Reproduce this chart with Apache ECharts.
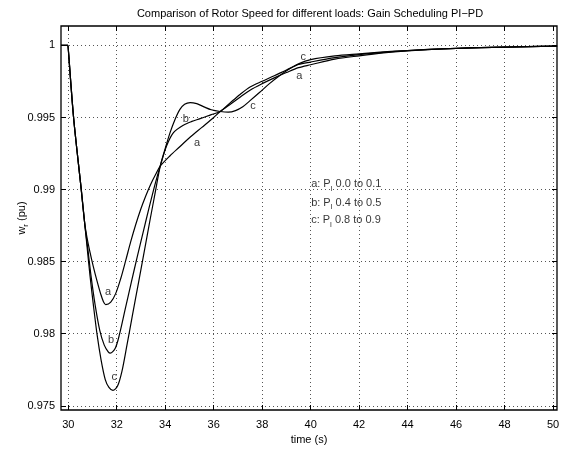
<!DOCTYPE html>
<html><head><meta charset="utf-8">
<script src="https://cdn.jsdelivr.net/npm/echarts@6/dist/echarts.min.js"></script>
<style>html,body{margin:0;padding:0;background:#fff}#c{width:570px;height:450px}</style>
</head><body><div id="c"></div>
<script>
// ---- data ----
const titleText = 'Comparison of Rotor Speed for different loads: Gain Scheduling PI\u2212PD';
const xTicks = [30, 32, 34, 36, 38, 40, 42, 44, 46, 48, 50];
const yTicks = [0.975, 0.98, 0.985, 0.99, 0.995, 1];
const yTickLabels = ['0.975', '0.98', '0.985', '0.99', '0.995', '1'];

// curve a: P_l 0.0 to 0.1
const timeA = [29.7, 29.99, 30, 30.219, 30.536, 30.672, 30.767, 30.891, 31.031, 31.188, 31.336, 31.452, 31.546, 31.753, 31.959, 32.165, 32.371, 32.577, 32.784, 32.99, 33.196, 33.402, 33.608, 33.794, 34.2, 34.6, 35.0, 35.5, 36.0, 36.27, 36.7, 37.1, 37.5, 38.0, 38.5, 39.0, 39.5, 40, 41, 42, 43, 44, 45, 46, 47, 48, 49, 50.17];
const speedA = [1, 1, 1, 0.995, 0.99, 0.98775, 0.98673, 0.9857, 0.98468, 0.98365, 0.98277, 0.98222, 0.98202, 0.98219, 0.9828, 0.98383, 0.98509, 0.98639, 0.98758, 0.98864, 0.98956, 0.99038, 0.99107, 0.99163, 0.99235, 0.99297, 0.9936, 0.9943, 0.995, 0.99542, 0.99594, 0.99642, 0.9969, 0.99735, 0.99775, 0.99812, 0.99846, 0.99866, 0.99905, 0.99928, 0.99948, 0.99962, 0.99972, 0.99979, 0.99985, 0.99989, 0.99992, 0.99995];
// curve b: P_l 0.4 to 0.5
const timeB = [29.7, 29.99, 30, 30.219, 30.536, 30.693, 30.796, 30.94, 31.113, 31.299, 31.485, 31.649, 31.732, 31.938, 32.115, 32.351, 32.598, 32.845, 33.093, 33.34, 33.588, 33.794, 34.05, 34.34, 34.75, 35.1, 35.44, 35.9, 36.27, 36.7, 37.1, 37.5, 38.0, 38.5, 39.0, 39.5, 40, 41, 42, 43, 44, 45, 46, 47, 48, 49, 50.17];
const speedB = [1, 1, 1, 0.995, 0.99, 0.98741, 0.98604, 0.984, 0.98195, 0.98024, 0.97921, 0.97874, 0.97865, 0.97899, 0.97997, 0.98172, 0.98355, 0.98533, 0.98707, 0.98878, 0.99042, 0.99163, 0.993, 0.99395, 0.99447, 0.99473, 0.99492, 0.9952, 0.99542, 0.99605, 0.99662, 0.99712, 0.99752, 0.9979, 0.9983, 0.99868, 0.99885, 0.99915, 0.99937, 0.99952, 0.99964, 0.99973, 0.9998, 0.99985, 0.99989, 0.99992, 0.99995];
// curve c: P_l 0.8 to 0.9
const timeC = [29.7, 29.99, 30, 30.219, 30.536, 30.693, 30.775, 30.899, 31.039, 31.192, 31.353, 31.526, 31.678, 31.843, 32.033, 32.214, 32.421, 32.639, 32.887, 33.134, 33.381, 33.588, 33.794, 34.0, 34.2, 34.4, 34.6, 34.8, 35.03, 35.3, 35.6, 35.9, 36.27, 36.6, 36.9, 37.2, 37.5, 37.9, 38.3, 38.7, 39.1, 39.5, 40, 41, 42, 43, 44, 45, 46, 47, 48, 49, 50.17];
const speedC = [1, 1, 1, 0.995, 0.99, 0.98741, 0.98604, 0.984, 0.98195, 0.9799, 0.97819, 0.97682, 0.97628, 0.97607, 0.97637, 0.97739, 0.97921, 0.9812, 0.98345, 0.9857, 0.98796, 0.9898, 0.99163, 0.99285, 0.99395, 0.99485, 0.99555, 0.99592, 0.99604, 0.99596, 0.99574, 0.99554, 0.99542, 0.99537, 0.99548, 0.99575, 0.99617, 0.99675, 0.99735, 0.99788, 0.99835, 0.99872, 0.99902, 0.99928, 0.99942, 0.99955, 0.99965, 0.99974, 0.9998, 0.99985, 0.99989, 0.99992, 0.99995];

// curve labels placed on the plot
const curveLabelText = ['a', 'b', 'c', 'b', 'a', 'c', 'c', 'a'];
const curveLabelTime = [31.64, 31.77, 31.90, 34.85, 35.31, 37.62, 39.70, 39.53];
const curveLabelSpeed = [0.98292, 0.9796, 0.97698, 0.99493, 0.99322, 0.99583, 0.99918, 0.99788];

// annotation block
const noteKey = ['a', 'b', 'c'];
const noteRange = ['0.0 to 0.1', '0.4 to 0.5', '0.8 to 0.9'];
const noteTime = [40, 40, 40];
const noteSpeed = [0.99026, 0.98900, 0.98780];

// ---- chart ----
const FONT = 'Liberation Sans, Arial, Helvetica, sans-serif';
const pairs = (t, v) => t.map((x, i) => [x, v[i]]);
const chart = echarts.init(document.getElementById('c'), null, {renderer: 'canvas'});
const lineStyle = {color: '#000', width: 1.2};
const curve = (name, t, v) => ({
  type: 'line', name, data: pairs(t, v), showSymbol: false, symbol: 'none',
  smooth: 0.3, lineStyle, z: 3, animation: false, silent: true
});
const gridLine = {show: true, lineStyle: {color: '#555', width: 1, type: [1, 3]}};
const yLabelFmt = v => { const i = yTicks.findIndex(y => Math.abs(y - v) < 1e-9); return i >= 0 ? yTickLabels[i] : ''; };
const richSub = {
  n: {fontFamily: FONT, fontSize: 11, color: '#000', lineHeight: 14, verticalAlign: 'top'},
  s: {fontFamily: FONT, fontSize: 8, color: '#000', lineHeight: 8, padding: [6, 0, 0, 0], verticalAlign: 'top'}
};

chart.setOption({
  animation: false,
  backgroundColor: '#fff',
  title: {
    text: titleText, left: 310, top: 8, textAlign: 'center', padding: 0,
    textStyle: {fontFamily: FONT, fontSize: 11, fontWeight: 'normal', color: '#000'}
  },
  grid: {left: 61, top: 26, width: 496, height: 390, show: true, borderColor: '#000', borderWidth: 1.3, backgroundColor: 'transparent'},
  xAxis: [{
    type: 'value', min: 29.7, max: 50.165,
    name: 'time (s)', nameLocation: 'middle', nameGap: 24, nameMoveOverlap: false,
    nameTextStyle: {fontFamily: FONT, fontSize: 11, color: '#000'},
    axisLine: {show: false},
    axisTick: {show: true, inside: true, length: 5, customValues: xTicks, lineStyle: {color: '#000'}},
    axisLabel: {show: true, customValues: xTicks, margin: 9, fontFamily: FONT, fontSize: 11, color: '#000'},
    splitLine: gridLine
  }, {
    type: 'value', min: 29.7, max: 50.165, position: 'top',
    axisLine: {show: false},
    axisTick: {show: true, inside: true, length: 5, customValues: xTicks, lineStyle: {color: '#000'}},
    axisLabel: {show: false}, splitLine: {show: false}
  }],
  yAxis: [{
    type: 'value', min: 0.97471, max: 1.00135,
    name: '{n|w}{s|r}{n| (pu)}', nameLocation: 'middle', nameRotate: 90, nameGap: 31, nameMoveOverlap: false,
    nameTextStyle: {fontFamily: FONT, fontSize: 11, color: '#000', rich: richSub},
    axisLine: {show: false},
    axisTick: {show: true, inside: true, length: 5, customValues: yTicks, lineStyle: {color: '#000'}},
    axisLabel: {show: true, customValues: yTicks, formatter: yLabelFmt, margin: 6, fontFamily: FONT, fontSize: 11, color: '#000'},
    splitLine: gridLine
  }, {
    type: 'value', min: 0.97471, max: 1.00135, position: 'right',
    axisLine: {show: false},
    axisTick: {show: true, inside: true, length: 5, customValues: yTicks, lineStyle: {color: '#000'}},
    axisLabel: {show: false}, splitLine: {show: false}
  }],
  series: [
    curve('a', timeA, speedA),
    curve('b', timeB, speedB),
    curve('c', timeC, speedC),
    {
      type: 'scatter', data: curveLabelTime.map((t, i) => [t, curveLabelSpeed[i], curveLabelText[i]]),
      symbol: 'circle', symbolSize: 1, itemStyle: {color: 'rgba(0,0,0,0)'}, z: 5, silent: true,
      label: {show: true, position: 'inside', formatter: p => p.data[2], fontFamily: FONT, fontSize: 11, color: '#000'}
    },
    {
      type: 'scatter', data: noteTime.map((t, i) => [t, noteSpeed[i], noteKey[i], noteRange[i]]),
      symbol: 'circle', symbolSize: 1, itemStyle: {color: 'rgba(0,0,0,0)'}, z: 5, silent: true,
      label: {
        show: true, position: 'right', distance: 0,
        formatter: p => '{n|' + p.data[2] + ': P}{s|l}{n| ' + p.data[3] + '}',
        rich: richSub
      }
    }
  ]
});
</script>
</body></html>
